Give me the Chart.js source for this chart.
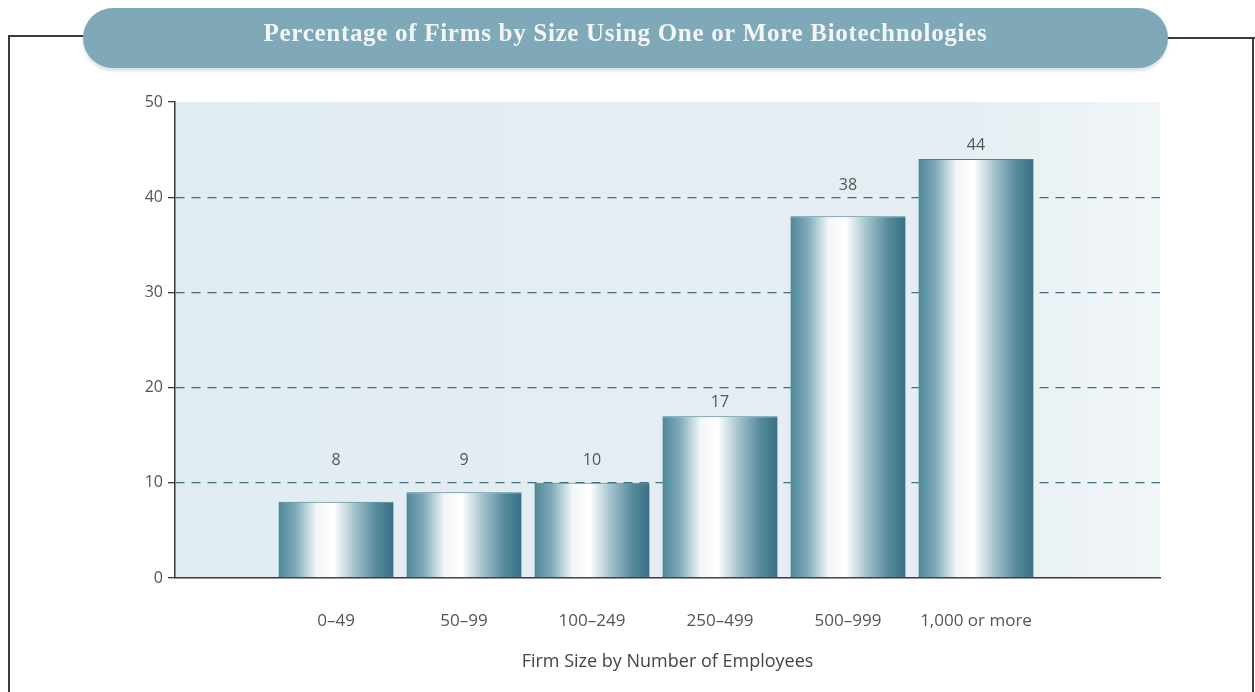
<!DOCTYPE html>
<html>
<head>
<meta charset="utf-8">
<script src="https://cdn.jsdelivr.net/npm/chart.js@4.4.1/dist/chart.umd.min.js"></script>
<style>
  html, body { margin: 0; padding: 0; background: #fff; }
  #wrap { position: relative; width: 1255px; height: 692px; overflow: hidden; background: #fff; }
  #chart { position: absolute; left: 0; top: 0; }
  .line { position: absolute; background: #3a3a3a; }
  .pill {
    position: absolute; left: 83px; top: 8px; width: 1085px; height: 60px;
    border-radius: 30px; background: #7fa8b9;
    box-shadow: 0 3px 3px rgba(120, 140, 150, 0.25);
    color: #f3f6f7; text-align: center;
    font: bold 25px "Liberation Serif", "DejaVu Serif", serif;
    line-height: 50px;
    letter-spacing: 0.7px;
  }
</style>
</head>
<body>
<div id="wrap">
  <canvas id="chart" width="1255" height="692"></canvas>
  <div class="line" style="left:8px;top:35px;width:80px;height:2px;"></div>
  <div class="line" style="left:8px;top:35px;width:1.5px;height:657px;"></div>
  <div class="line" style="left:1160px;top:37px;width:95px;height:2px;"></div>
  <div class="line" style="left:1252px;top:37px;width:1.5px;height:655px;"></div>
  <div class="pill">Percentage of Firms by Size Using One or More Biotechnologies</div>
</div>
<script>
// Chart data
const categories = ['0\u201349', '50\u201399', '100\u2013249', '250\u2013499', '500\u2013999', '1,000 or more'];
const percentages = [8, 9, 10, 17, 38, 44];
const yTicks = [0, 10, 20, 30, 40, 50];

// Light tinted plot area behind the bars
const plotBackground = {
  id: 'plotBackground',
  beforeDraw(chart) {
    const { ctx, chartArea: a } = chart;
    const g = ctx.createLinearGradient(a.left, 0, a.right, 0);
    g.addColorStop(0, '#e1ecf1');
    g.addColorStop(0.8, '#e5eef3');
    g.addColorStop(1, '#f1f6f8');
    ctx.save();
    ctx.fillStyle = g;
    ctx.fillRect(a.left, a.top, a.right - a.left, a.bottom - a.top);
    ctx.restore();
  }
};

// Cylinder-like shading, one horizontal gradient per bar
function barGradient(context) {
  const chart = context.chart;
  const xs = chart.scales.x;
  const fallback = '#6f9fb0';
  if (!xs || !chart.chartArea || context.dataIndex === undefined) return fallback;
  const cx = xs.getPixelForValue(context.dataIndex);
  const half = (xs.getPixelForValue(1) - xs.getPixelForValue(0)) * 0.45;
  if (!isFinite(cx) || !isFinite(half)) return fallback;
  const g = chart.ctx.createLinearGradient(cx - half, 0, cx + half, 0);
  g.addColorStop(0, '#4f889a');
  g.addColorStop(0.15, '#7eaab9');
  g.addColorStop(0.33, '#f2f7f8');
  g.addColorStop(0.48, '#ffffff');
  g.addColorStop(0.66, '#a3c3cd');
  g.addColorStop(0.86, '#52889a');
  g.addColorStop(1, '#3a7083');
  return g;
}

// Value labels above each bar
const valueLabels = {
  id: 'valueLabels',
  afterDatasetsDraw(chart) {
    const { ctx } = chart;
    const y = chart.scales.y;
    const meta = chart.getDatasetMeta(0);
    ctx.save();
    ctx.font = '16px "Open Sans", sans-serif';
    ctx.fillStyle = '#555';
    ctx.textAlign = 'center';
    ctx.textBaseline = 'middle';
    meta.data.forEach((bar, i) => {
      let ly = Math.min(bar.y - 14, y.getPixelForValue(12.3));
      // keep labels off the dashed lines
      yTicks.forEach(t => {
        const gy = y.getPixelForValue(t);
        if (t > 0 && t < 50 && Math.abs(ly - gy) < 9) ly = gy - 12;
      });
      ctx.fillText(String(percentages[i]), bar.x, ly);
    });
    ctx.restore();
  }
};

new Chart(document.getElementById('chart'), {
  type: 'bar',
  data: {
    datasets: [{
      data: percentages.map((v, i) => ({ x: i, y: v })),
      backgroundColor: barGradient,
      borderColor: '#4d7f90',
      borderWidth: { top: 1, left: 0, right: 0, bottom: 0 },
      categoryPercentage: 1,
      barPercentage: 0.9
    }]
  },
  options: {
    responsive: false,
    animation: false,
    layout: { padding: { left: 115, top: 102, right: 95, bottom: 19 } },
    plugins: { legend: { display: false }, tooltip: { enabled: false } },
    scales: {
      x: {
        type: 'linear',
        offset: false,
        min: -1.258,
        max: 6.4375,
        afterBuildTicks: s => { s.ticks = categories.map((_, i) => ({ value: i })); },
        afterFit: s => { s.height = 95; },
        ticks: {
          callback: v => categories[v],
          color: '#555',
          font: { family: '"Open Sans", sans-serif', size: 17 },
          padding: 33,
          maxRotation: 0,
          autoSkip: false
        },
        grid: { display: false, drawTicks: false, offset: false },
        border: { display: true, color: '#3a3a3a', width: 1.5 },
        title: {
          display: true,
          text: 'Firm Size by Number of Employees',
          color: '#444',
          font: { family: '"Open Sans", sans-serif', size: 18 },
          padding: 0
        }
      },
      y: {
        min: 0,
        max: 50,
        afterBuildTicks: s => { s.ticks = yTicks.map(v => ({ value: v })); },
        afterFit: s => { s.width = 60; },
        ticks: {
          color: '#555',
          font: { family: '"Open Sans", sans-serif', size: 16 },
          padding: 5
        },
        grid: {
          color: c => (c.tick && c.tick.value > 0 && c.tick.value < 50) ? '#3f6f80' : 'rgba(0,0,0,0)',
          lineWidth: 1.3,
          tickColor: '#3a3a3a',
          tickLength: 7,
          tickWidth: 1.3
        },
        border: { display: true, color: '#3a3a3a', width: 1.5, dash: [9, 7] }
      }
    }
  },
  plugins: [plotBackground, valueLabels]
});
</script>
</body>
</html>
